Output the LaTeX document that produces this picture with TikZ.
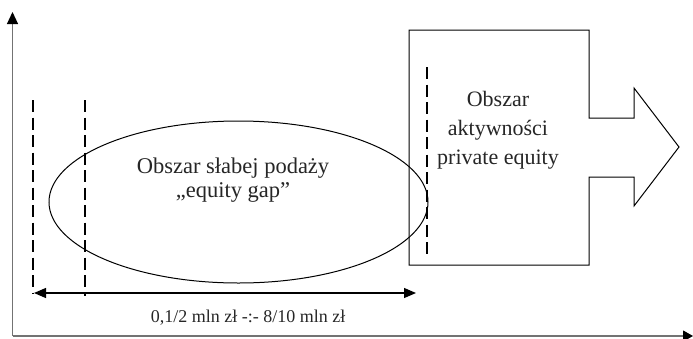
\documentclass[tikz,border=0pt]{standalone}
\usepackage{fontspec}
\setmainfont{Liberation Serif}
\usetikzlibrary{arrows.meta,shapes.geometric}
\begin{document}
\begin{tikzpicture}[x=1pt,y=-1pt,
  axis/.style={draw=black!55, line width=1.1pt},
  dline/.style={draw=black, line width=1.2pt, dash pattern=on 12pt off 5.5pt},
  outline/.style={draw=black, line width=1pt},
  boxtextstyle/.style={font=\fontsize{22}{29}\selectfont, align=center, text=black!85},
  elltextstyle/.style={font=\fontsize{22.5}{24}\selectfont, align=center, text=black!85},
  smalltext/.style={font=\fontsize{18}{22}\selectfont, text=black!85}]
\useasboundingbox (0,0) rectangle (693,338);
% axes
\coordinate (o) at (12.5,336);
\coordinate (ytop) at (12.5,12);
\coordinate (xend) at (693,336);
\draw[axis, -{Triangle[length=12pt,width=11pt,color=black]}] (o) -- (ytop);
\draw[axis, -{Triangle[length=10pt,width=11pt,color=black]}] (o) -- (xend);
% box with arrow
\draw[outline] (409,30) -- (589,30) -- (589,118) -- (634,118) -- (634,88)
  -- (679,147) -- (634,206) -- (634,177) -- (589,177) -- (589,265) -- (409,265) -- cycle;
\node[boxtextstyle] (boxtext) at (498,130) {Obszar\\aktywności\\private equity};
% ellipse
\node[ellipse, outline, minimum width=379pt, minimum height=162pt, inner sep=0pt] (ell) at (238.5,202) {};
\node[elltextstyle] (elltext) at (233,180) {Obszar słabej podaży\\„equity gap”};
% dashed lines
\coordinate (d1t) at (33,100); \coordinate (d1b) at (33,293);
\coordinate (d2t) at (85,100); \coordinate (d2b) at (85,296);
\coordinate (d3t) at (427,67); \coordinate (d3b) at (427,259);
\draw[dline] (d1t) -- (d1b);
\draw[dline] (d2t) -- (d2b);
\draw[dline] (d3t) -- (d3b);
% range arrow
\coordinate (ra) at (34,293);
\coordinate (rb) at (416,293);
\draw[line width=1.2pt, {Triangle[length=12pt,width=10pt]}-{Triangle[length=12pt,width=10pt]}] (ra) -- (rb);
\node[smalltext] (range) at (248,318) {0,1/2 mln zł -:- 8/10 mln zł};
\end{tikzpicture}
\end{document}
